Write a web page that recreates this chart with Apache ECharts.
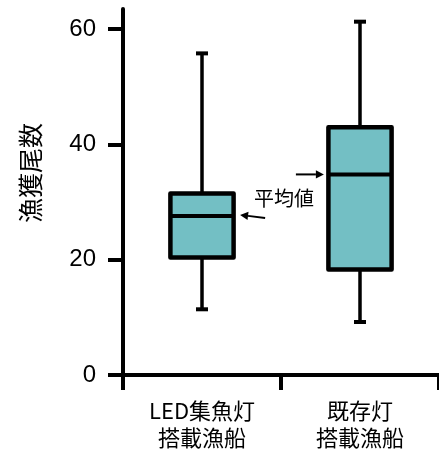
<!DOCTYPE html>
<html>
<head>
<meta charset="utf-8">
<script src="https://cdn.jsdelivr.net/npm/echarts@6/dist/echarts.min.js"></script>
<style>
  html, body { margin: 0; padding: 0; background: #fff; }
  #chart { width: 439px; height: 452px; }
</style>
</head>
<body>
<div id="chart"></div>
<script>
// Catch counts per boat type: whiskers, box edges and the mean line
const categories = ['LED集魚灯\n搭載漁船', '既存灯\n搭載漁船'];
const whiskerLow = [11.4, 9.2];
const quartile1 = [20.4, 18.3];
const means = [27.6, 34.8];
const quartile3 = [31.5, 43.0];
const whiskerHigh = [55.8, 61.3];
const yTicks = [0, 20, 40, 60];

const BOX_FILL = '#73bfc4';
const INK = '#000';
const JP_FONT = '"Noto Sans CJK JP", "Noto Sans", sans-serif';

const boxData = categories.map((c, i) => [
  i, whiskerLow[i], quartile1[i], means[i], quartile3[i], whiskerHigh[i]
]);

function arrow(x1, y1, x2, y2) {
  // shaft from (x1,y1) to the tip (x2,y2) with a filled head
  const ang = Math.atan2(y2 - y1, x2 - x1);
  const len = 8, half = 4.2;
  const bx = x2 - Math.cos(ang) * len, by = y2 - Math.sin(ang) * len;
  const nx = -Math.sin(ang) * half, ny = Math.cos(ang) * half;
  return [
    { type: 'line', shape: { x1: x1, y1: y1, x2: bx, y2: by },
      style: { stroke: INK, lineWidth: 2 } },
    { type: 'polygon', shape: { points: [[x2, y2], [bx + nx, by + ny], [bx - nx, by - ny]] },
      style: { fill: INK } }
  ];
}

function renderBox(params, api) {
  const i = api.value(0);
  const xc = api.coord([i, 0])[0];
  const yAt = k => api.coord([i, api.value(k)])[1];
  const yMin = yAt(1), yQ1 = yAt(2), yMean = yAt(3), yQ3 = yAt(4), yMax = yAt(5);
  const bw = api.size([1, 0])[0] * 0.4;
  const capW = 12;
  const children = [
    { type: 'line', shape: { x1: xc, y1: yQ3, x2: xc, y2: yMax },
      style: { stroke: INK, lineWidth: 3.5 } },
    { type: 'line', shape: { x1: xc, y1: yQ1, x2: xc, y2: yMin },
      style: { stroke: INK, lineWidth: 3.5 } },
    { type: 'line', shape: { x1: xc - capW / 2, y1: yMax, x2: xc + capW / 2, y2: yMax },
      style: { stroke: INK, lineWidth: 4 } },
    { type: 'line', shape: { x1: xc - capW / 2, y1: yMin, x2: xc + capW / 2, y2: yMin },
      style: { stroke: INK, lineWidth: 4 } },
    { type: 'rect', shape: { x: xc - bw / 2, y: yQ3, width: bw, height: yQ1 - yQ3 },
      style: { fill: BOX_FILL, stroke: INK, lineWidth: 4.5, lineJoin: 'round' } },
    { type: 'line', shape: { x1: xc - bw / 2, y1: yMean, x2: xc + bw / 2, y2: yMean },
      style: { stroke: INK, lineWidth: 4 } }
  ];
  if (i === 0) {
    const tipX = xc + bw / 2 + 6.5;
    children.push(...arrow(tipX + 25, yMean + 2, tipX, yMean - 1));
    children.push({
      type: 'text',
      style: {
        x: tipX + 14, y: yMean - 18, text: '平均値',
        fill: INK, font: '20px ' + JP_FONT,
        align: 'left', verticalAlign: 'middle'
      }
    });
  } else {
    const tipX = xc - bw / 2 - 4.5;
    children.push(...arrow(tipX - 28, yMean, tipX, yMean));
  }
  return { type: 'group', children: children };
}

const chart = echarts.init(document.getElementById('chart'), null, { renderer: 'canvas' });
chart.setOption({
  animation: false,
  backgroundColor: '#fff',
  grid: { left: 123, top: 9, width: 322, bottom: 77, containLabel: false },
  xAxis: {
    type: 'category',
    data: categories,
    boundaryGap: true,
    axisLine: { lineStyle: { color: INK, width: 4 } },
    axisTick: { show: true, length: 15, lineStyle: { color: INK, width: 4 } },
    axisLabel: {
      color: INK, fontSize: 22, lineHeight: 27, margin: 22,
      fontFamily: JP_FONT, interval: 0
    },
    splitLine: { show: false }
  },
  yAxis: {
    type: 'value',
    min: 0,
    max: 63.5,
    axisLine: { show: true, lineStyle: { color: INK, width: 4 } },
    axisTick: { show: true, length: 15, customValues: yTicks, lineStyle: { color: INK, width: 4 } },
    axisLabel: {
      customValues: yTicks, color: INK, fontSize: 24, margin: 27,
      fontFamily: '"Liberation Sans", Arial, sans-serif'
    },
    splitLine: { show: false }
  },
  graphic: [{
    type: 'text',
    x: 30, y: 173,
    rotation: Math.PI / 2,
    style: {
      text: '漁獲尾数', fill: INK, font: '25px ' + JP_FONT,
      align: 'center', verticalAlign: 'middle'
    }
  }],
  series: [{
    type: 'custom',
    renderItem: renderBox,
    encode: { x: 0, y: [1, 2, 3, 4, 5] },
    data: boxData
  }]
});
</script>
</body>
</html>
